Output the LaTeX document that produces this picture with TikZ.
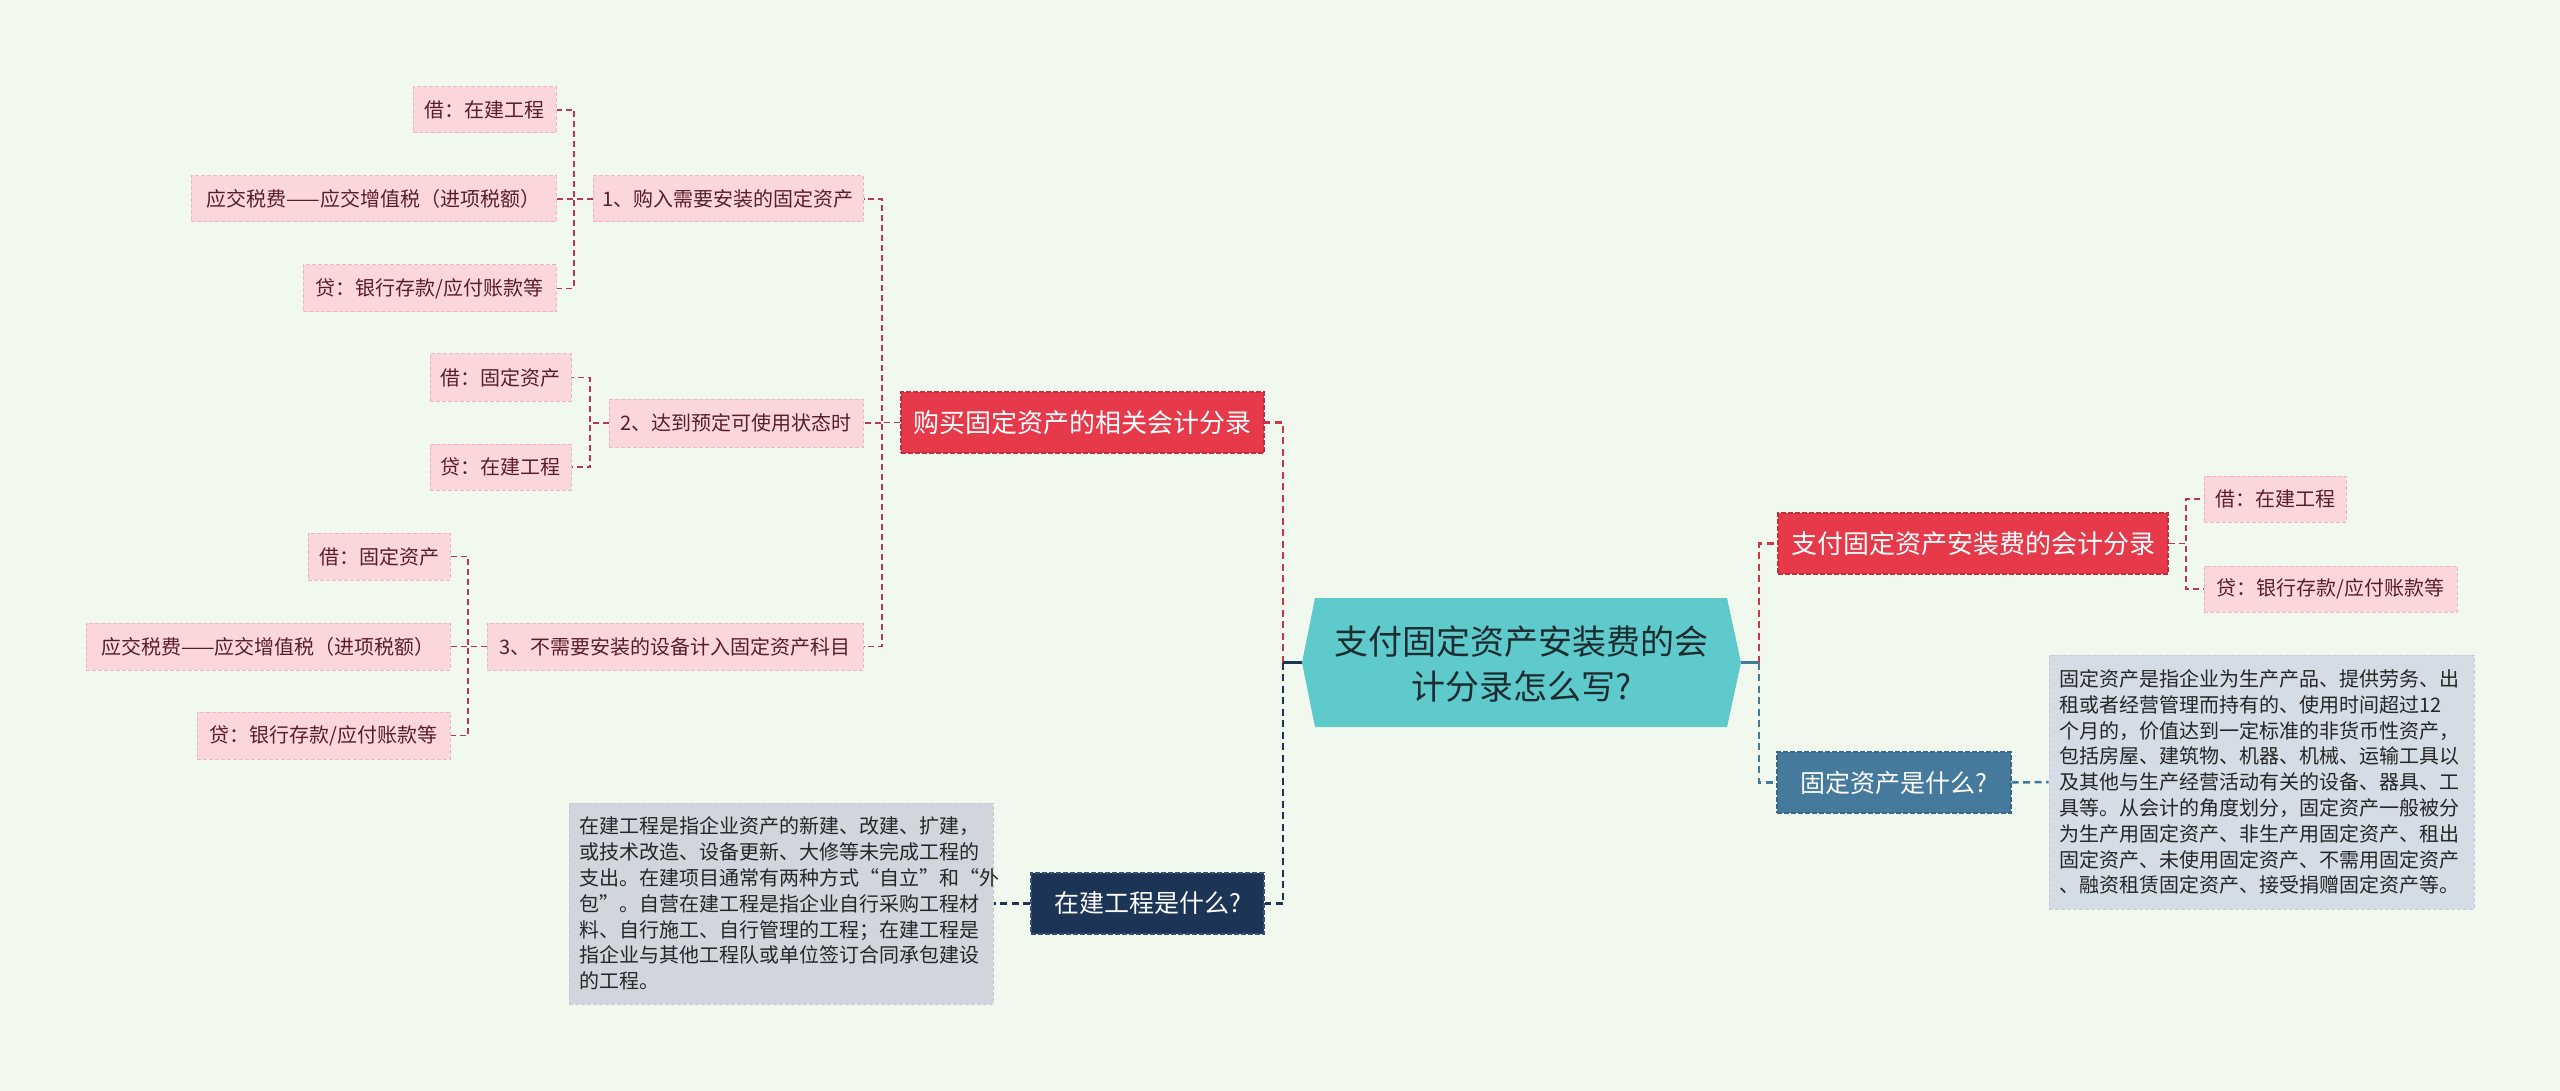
\documentclass[tikz,border=0pt]{standalone}
\usepackage{fontspec}
\setmainfont{Noto Sans CJK SC}
\usetikzlibrary{calc}
\definecolor{bg}{HTML}{F1F9EF}
\definecolor{rootfill}{HTML}{5ECACB}
\definecolor{roottext}{HTML}{1C2C30}
\definecolor{mainred}{HTML}{E63A4A}
\definecolor{mainredb}{HTML}{C42D3C}
\definecolor{pinkfill}{HTML}{FBD7DC}
\definecolor{pinkborder}{HTML}{F0B6C0}
\definecolor{pinktext}{HTML}{5A1F26}
\definecolor{steel}{HTML}{467A9C}
\definecolor{steelb}{HTML}{3A6786}
\definecolor{navy}{HTML}{1C3557}
\definecolor{navyb}{HTML}{3A5272}
\definecolor{descR}{HTML}{D4DDE5}
\definecolor{descL}{HTML}{D1D6DD}
\definecolor{descb}{HTML}{C3CBD4}
\definecolor{desctext}{HTML}{262626}
\definecolor{thinred}{HTML}{B83A4A}
\definecolor{linkred}{HTML}{D03545}
\tikzset{
  pinkbox/.style={fill=pinkfill, draw=pinkborder, dash pattern=on 4pt off 2pt, line width=1pt,
    text=pinktext, font=\fontsize{20}{24}\selectfont, inner sep=0pt, minimum height=46pt},
  redbox/.style={fill=mainred, draw=mainredb, dash pattern=on 5pt off 2pt, line width=1.2pt,
    text=white, font=\fontsize{26}{30}\selectfont, inner sep=0pt, minimum height=61pt},
  steelbox/.style={fill=steel, draw=steelb, dash pattern=on 5pt off 2pt, line width=1.2pt,
    text=white, font=\fontsize{25}{30}\selectfont, inner sep=0pt, minimum height=61pt},
  navybox/.style={fill=navy, draw=navyb, dash pattern=on 5pt off 2pt, line width=1.2pt,
    text=white, font=\fontsize{25}{30}\selectfont, inner sep=0pt, minimum height=61pt},
  descbox/.style={draw=descb, dash pattern=on 4pt off 2pt, line width=1pt,
    text=desctext, font=\fontsize{20}{25.8}\selectfont, align=left, inner xsep=10.5pt, inner ysep=0pt},
  thinlnk/.style={line width=1.5pt, draw=thinred, dash pattern=on 6pt off 4pt},
  redlnk/.style={line width=2.5pt, draw=linkred, dash pattern=on 7pt off 4.5pt},
  navylnk/.style={line width=2.5pt, draw=navy, dash pattern=on 7pt off 4.5pt},
  steellnk/.style={line width=2.5pt, draw=steel, dash pattern=on 7pt off 4.5pt},
}
\begin{document}
\begin{tikzpicture}[x=1pt,y=-1pt]
\useasboundingbox[fill=bg] (0,0) rectangle (2560,1091);

% root shape
\coordinate (rootW) at (1302,662.5);
\coordinate (rootE) at (1741,662.5);
\coordinate (rootNW) at (1315,598);
\coordinate (rootNE) at (1727,598);
\coordinate (rootSE) at (1727,727);
\coordinate (rootSW) at (1315,727);
\fill[rootfill] (rootW) -- (rootNW) -- (rootNE) -- (rootE) -- (rootSE) -- (rootSW) -- cycle;
\node[text=roottext, font=\fontsize{34}{45}\selectfont, align=center] (root) at (1521.5,664)
  {支付固定资产安装费的会\\计分录怎么写?};

% left level 1
\node[redbox, minimum width=363pt] (M1) at (1082.5,422.5) {购买固定资产的相关会计分录};
\node[navybox, minimum width=233pt] (M2) at (1147.5,903.5) {在建工程是什么?};
\node[descbox, fill=descL, text width=403pt, minimum height=201pt] (D1) at (781,903.5)
  {在建工程是指企业资产的新建、改建、扩建，\\或技术改造、设备更新、大修等未完成工程的\\支出。在建项目通常有两种方式“自立”和“外\\包”。自营在建工程是指企业自行采购工程材\\料、自行施工、自行管理的工程；在建工程是\\指企业与其他工程队或单位签订合同承包建设\\的工程。};

% left level 2
\node[pinkbox, minimum width=270pt] (P1) at (728,199) {1、购入需要安装的固定资产};
\node[pinkbox, minimum width=254pt, minimum height=48pt] (P2) at (736,423) {2、达到预定可使用状态时};
\node[pinkbox, minimum width=376pt, minimum height=47pt] (P3) at (675,646.5) {3、不需要安装的设备计入固定资产科目};

% left level 3
\node[pinkbox, minimum width=143pt] (A1) at (484.5,110) {借：在建工程};
\node[pinkbox, minimum width=365pt] (A2) at (373.5,199) {应交税费——应交增值税（进项税额）};
\node[pinkbox, minimum width=253pt, minimum height=47pt] (A3) at (429.5,288.5) {贷：银行存款/应付账款等};
\node[pinkbox, minimum width=141pt, minimum height=47pt] (B1) at (500.5,377.5) {借：固定资产};
\node[pinkbox, minimum width=141pt] (B2) at (500.5,467) {贷：在建工程};
\node[pinkbox, minimum width=142pt, minimum height=47pt] (C1) at (379,556.5) {借：固定资产};
\node[pinkbox, minimum width=364pt, minimum height=47pt] (C2) at (268,646.5) {应交税费——应交增值税（进项税额）};
\node[pinkbox, minimum width=253pt, minimum height=47pt] (C3) at (323.5,735.5) {贷：银行存款/应付账款等};

% right
\node[redbox, minimum width=390pt] (R1) at (1973,543.5) {支付固定资产安装费的会计分录};
\node[pinkbox, minimum width=142pt] (R1a) at (2275,499) {借：在建工程};
\node[pinkbox, minimum width=253pt] (R1b) at (2330.5,589) {贷：银行存款/应付账款等};
\node[steelbox, minimum width=234pt] (R2) at (1894,782.5) {固定资产是什么?};
\node[descbox, fill=descR, text width=404pt, minimum height=254pt] (D2) at (2261.5,782)
  {固定资产是指企业为生产产品、提供劳务、出\\租或者经营管理而持有的、使用时间超过12\\个月的，价值达到一定标准的非货币性资产，\\包括房屋、建筑物、机器、机械、运输工具以\\及其他与生产经营活动有关的设备、器具、工\\具等。从会计的角度划分，固定资产一般被分\\为生产用固定资产、非生产用固定资产、租出\\固定资产、未使用固定资产、不需用固定资产\\、融资租赁固定资产、接受捐赠固定资产等。};

% buses
\coordinate (busA) at (574,0);
\coordinate (busB) at (590,0);
\coordinate (busC) at (468,0);
\coordinate (busM) at (882,0);
\coordinate (busL) at (1283,0);
\coordinate (busR) at (1759,0);
\coordinate (busR1) at (2186,0);

% connectors left
\foreach \c in {A1,A2,A3} \draw[thinlnk] (P1.west) -- (P1.west -| busA) |- (\c.east);
\foreach \c in {B1,B2} \draw[thinlnk] (P2.west) -- (P2.west -| busB) |- (\c.east);
\foreach \c in {C1,C2,C3} \draw[thinlnk] (P3.west) -- (P3.west -| busC) |- (\c.east);
\foreach \c in {P1,P2,P3} \draw[thinlnk] (M1.west) -- (M1.west -| busM) |- (\c.east);
\draw[redlnk] (rootW -| busL) |- (M1.east);
\draw[navylnk] (rootW -| busL) |- (M2.east);
\draw[line width=2.5pt, navy] (rootW) -- (rootW -| busL);
\draw[navylnk] (M2.west) -- (D1.east);

% connectors right
\draw[redlnk] (rootE -| busR) |- (R1.west);
\draw[steellnk] (rootE -| busR) |- (R2.west);
\draw[line width=2.5pt, steel] (rootE) -- (rootE -| busR);
\foreach \c in {R1a,R1b} \draw[thinlnk] (R1.east) -- (R1.east -| busR1) |- (\c.west);
\draw[steellnk] (R2.east) -- (D2.west);
\end{tikzpicture}
\end{document}
